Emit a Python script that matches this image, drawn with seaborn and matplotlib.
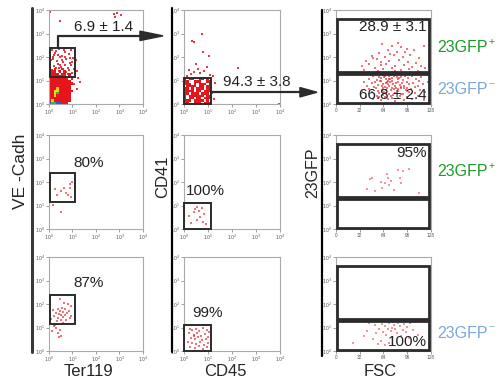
import numpy as np
import pandas as pd
from matplotlib import pyplot as plt
from matplotlib.colors import ListedColormap
from matplotlib.patches import Rectangle, Polygon
import seaborn as sns

sns.set_style('white')
plt.rcParams['font.family'] = ['Liberation Sans', 'DejaVu Sans']

W, H = 502, 385

# ---- data (log panels in decades, FSC panels: x linear 0-128, y in decades) ----
# dense core of the first plot, cells of 0.1 decade, top row first (y 1.4-1.5 ... 0-0.1)
A1_CELLS = [
    "r.r..r....",
    ".rr.r.r...",
    "rrrr.rr.r.",
    "rrrrrrr.r.",
    "rrrrrrrr.r",
    "rrrrrrrrr.",
    "rrrrrrrrrr",
    "rrrrrrrrr.",
    "rrryrrrrr.",
    "rryyrrrrrr",
    "rrygrrrrr.",
    "rryrrrrrr.",
    "rrrrrrrrr.",
    "ryrrrrrrr.",
    "bggbbrrr..",
]
A1_PTS = [(0.12, 2.30), (0.25, 2.18), (0.41, 2.35), (0.55, 2.05), (0.68, 2.22), (0.83, 2.12),
          (0.95, 2.28), (1.02, 1.95), (0.18, 1.92), (0.33, 1.85), (0.47, 1.98), (0.61, 1.80),
          (0.74, 1.90), (0.88, 1.76), (0.06, 1.70), (0.22, 1.62), (0.37, 1.72), (0.52, 1.58),
          (0.66, 1.66), (0.79, 1.55), (0.93, 1.64), (1.05, 1.50), (0.14, 1.45), (0.29, 1.52),
          (0.44, 1.40), (0.58, 1.47), (0.71, 1.36), (0.86, 1.43), (0.98, 1.32), (0.10, 1.28),
          (0.35, 1.25), (0.63, 1.22), (0.90, 1.20), (0.50, 2.40), (0.78, 2.38), (0.20, 2.10),
          (0.57, 1.88), (0.42, 1.55), (0.16, 2.02), (0.70, 2.00), (1.12, 1.72), (1.20, 1.40),
          (1.15, 1.86), (1.25, 1.10), (1.08, 0.85), (1.18, 0.62), (1.30, 0.95), (0.05, 3.90),
          (2.75, 3.82), (2.90, 3.88), (3.05, 3.80), (2.82, 3.70), (0.45, 3.55),
          (0.30, 2.25), (0.62, 2.30), (0.88, 1.95), (0.08, 1.88), (0.27, 1.38), (0.80, 1.28),
          (1.10, 1.35), (0.48, 1.68), (0.96, 1.80), (0.38, 2.08)]
A2_PTS = [(0.98, 2.00), (0.88, 1.92), (0.62, 1.74), (0.35, 1.45), (0.80, 1.45), (1.12, 1.66),
          (0.50, 1.60), (0.72, 1.55), (0.95, 1.38), (0.25, 1.70), (0.90, 1.75), (0.15, 1.02),
          (0.50, 0.72), (0.02, 0.45), (0.02, 0.85)]
A3_PTS = [(0.45, 2.20), (0.65, 2.05), (0.80, 1.98), (0.92, 1.90), (0.55, 1.85), (0.38, 1.80),
          (0.70, 1.78), (0.15, 1.75), (0.48, 1.70), (0.60, 1.68), (0.75, 1.62), (0.85, 1.72),
          (0.30, 1.62), (0.42, 1.58), (0.52, 1.55), (0.66, 1.52), (0.95, 1.50), (0.22, 1.48),
          (0.58, 1.45), (0.40, 1.40), (0.88, 1.40), (0.10, 1.35), (0.72, 1.32), (0.50, 1.30),
          (0.33, 1.28), (0.05, 1.15), (0.20, 1.05), (0.30, 0.98), (0.45, 0.90), (0.12, 0.85),
          (0.38, 0.78), (0.50, 0.65), (0.42, 0.58), (0.25, 1.10), (0.60, 1.20)]

# CD41 / CD45 gate core, cells of 0.1 decade, top row first
B1_CELLS = [
    "r.rr..rr.r.",
    "rr..rrr..rr",
    "rrr.r.rrr.r",
    ".rrrr.rr.rr",
    "rr.r.rrr.rr",
    "rrrr.rr.rrr",
    "rr.rrr.rrr.",
    "r.rrrrrr.rr",
    "r.rr.rr.rrr",
    "rrr.rrrr.r.",
    "rr..rrr.rrr",
]
B1_PTS = [(0.75, 2.98), (0.33, 2.70), (0.42, 2.62), (0.80, 2.22), (1.05, 2.05), (0.52, 1.72),
          (0.95, 1.58), (2.25, 1.55), (0.20, 1.45), (0.40, 1.38), (0.65, 1.30), (0.85, 1.42),
          (1.10, 1.25), (1.22, 1.18), (0.12, 1.20), (0.30, 1.28), (0.58, 1.50), (1.30, 0.90),
          (1.18, 0.45), (1.25, 0.20), (3.95, 0.02)]
B2_PTS = [(0.53, 0.94), (0.74, 0.91), (0.40, 0.72), (0.80, 0.30), (0.30, 0.24), (0.68, 0.50),
          (0.45, 0.85), (0.85, 0.62), (0.62, 0.78), (0.20, 0.55), (0.90, 0.20), (0.55, 0.40)]
B3_PTS = [(0.25, 0.95), (0.35, 0.88), (0.48, 0.92), (0.62, 0.85), (0.80, 0.98), (0.95, 0.90),
          (1.05, 0.80), (0.20, 0.75), (0.40, 0.70), (0.55, 0.78), (0.70, 0.65), (0.88, 0.72),
          (1.00, 0.60), (0.30, 0.55), (0.45, 0.50), (0.60, 0.58), (0.75, 0.45), (0.92, 0.52),
          (0.15, 0.40), (0.35, 0.35), (0.52, 0.30), (0.68, 0.38), (0.85, 0.25), (1.02, 0.35),
          (0.25, 0.18), (0.45, 0.12), (0.62, 0.20), (0.78, 0.10), (0.95, 0.15), (0.40, 0.62)]

# FSC vs 23GFP
C1_PTS = [(62, 2.55), (75, 2.48), (88, 2.42), (70, 2.30), (95, 2.35), (105, 2.28), (82, 2.20),
          (58, 2.15), (118, 2.45), (48, 2.05), (66, 2.00), (78, 2.08), (90, 1.98), (100, 2.10),
          (112, 1.95), (40, 1.85), (55, 1.90), (72, 1.82), (85, 1.88), (97, 1.80), (108, 1.75),
          (45, 1.70), (60, 1.65), (68, 1.72), (80, 1.60), (92, 1.68), (103, 1.58), (115, 1.62),
          (52, 1.55), (64, 1.48), (76, 1.52), (87, 1.45), (99, 1.50), (110, 1.42), (38, 1.45),
          (57, 1.42), (84, 2.60), (73, 2.12), (93, 2.22), (61, 1.78), (50, 1.95), (79, 1.40),
          (120, 1.55), (35, 1.60),
          (50, 1.20), (58, 1.15), (63, 1.22), (67, 1.08), (72, 1.18), (76, 1.12), (80, 1.24),
          (84, 1.05), (88, 1.16), (93, 1.20), (97, 1.10), (102, 1.18), (108, 1.06), (115, 1.14),
          (122, 1.22), (45, 1.05), (55, 1.02), (70, 1.00), (90, 1.02), (60, 1.10), (74, 1.25),
          (86, 1.22), (66, 1.18), (82, 1.15), (112, 1.00),
          (38, 0.95), (48, 0.88), (53, 0.92), (57, 0.80), (61, 0.96), (64, 0.85), (68, 0.90),
          (71, 0.78), (73, 0.94), (77, 0.86), (79, 0.75), (83, 0.92), (86, 0.82), (89, 0.88),
          (92, 0.76), (95, 0.95), (99, 0.84), (104, 0.90), (110, 0.78), (117, 0.86), (124, 0.92),
          (42, 0.75), (51, 0.72), (66, 0.72), (75, 0.98), (81, 0.70), (96, 0.70), (106, 0.72),
          (59, 0.98), (70, 0.84),
          (35, 0.55), (44, 0.62), (49, 0.50), (54, 0.66), (58, 0.45), (62, 0.60), (65, 0.52),
          (69, 0.68), (72, 0.42), (74, 0.58), (78, 0.64), (80, 0.48), (84, 0.55), (87, 0.66),
          (90, 0.44), (94, 0.60), (98, 0.52), (101, 0.65), (107, 0.48), (113, 0.58), (120, 0.50),
          (56, 0.56), (68, 0.48), (77, 0.40), (88, 0.42), (63, 0.68), (92, 0.68),
          (40, 0.30), (50, 0.22), (55, 0.35), (60, 0.15), (66, 0.28), (70, 0.20), (74, 0.33),
          (79, 0.12), (83, 0.25), (86, 0.36), (91, 0.18), (96, 0.30), (103, 0.22), (110, 0.35),
          (118, 0.15), (64, 0.38), (76, 0.25), (58, 0.30),
          (65, 1.13), (71, 1.05), (78, 1.20), (85, 1.10), (69, 0.95), (81, 0.88), (62, 0.78),
          (75, 0.70), (87, 0.74), (73, 1.08), (67, 0.60), (83, 0.62)]
C2_PTS = [(42, 1.70), (48, 2.17), (46, 2.12), (52, 1.62), (62, 1.74), (66, 1.95), (69, 2.34),
          (70, 2.18), (72, 1.88), (74, 2.05), (78, 1.68), (84, 2.50), (86, 2.15), (88, 1.95),
          (90, 2.48), (98, 2.55), (112, 1.53), (60, 2.02)]
C3_PTS = [(23, 0.35), (45, 1.20), (52, 1.10), (58, 0.95), (62, 1.15), (64, 0.80), (66, 1.05),
          (68, 0.70), (70, 0.92), (72, 1.18), (74, 0.85), (75, 1.00), (76, 0.60), (78, 1.12),
          (80, 0.95), (82, 0.78), (84, 1.20), (86, 1.05), (88, 0.65), (90, 0.90), (92, 1.15),
          (94, 0.80), (96, 1.02), (98, 0.55), (100, 1.18), (104, 0.88), (108, 1.22), (110, 0.70),
          (50, 0.50), (56, 0.30), (60, 0.42), (66, 0.25), (72, 0.35), (42, 0.85), (38, 0.65),
          (54, 0.78)]

GATE_VE = (0.05, 1.15, 1.1, 2.4)     # x0, y0, x1, y1
GATE_CD = (0.0, 0.0, 1.12, 1.1)
GATE_POS = (1, 1.36, 125, 3.6)
GATE_NEG = (1, 0.03, 125, 1.27)

LOG_TICKS = [0, 1, 2, 3, 4]
LOG_LABELS = ['$10^%d$' % k for k in LOG_TICKS]
FSC_TICKS = [0, 32, 64, 96, 128]

COL_X = [(49, 143), (184, 280), (336, 431)]
ROW_Y = [(10, 104), (135, 229), (257, 351)]

RED = '#e8141c'
DARK = '#2b2b2b'
GREEN = '#1f9a2a'
BLUE = '#7ca7d8'

fig = plt.figure(figsize=(W / 100, H / 100), dpi=100)


def px_axes(col, row):
    x0, x1 = COL_X[col]
    y0, y1 = ROW_Y[row]
    return fig.add_axes([x0 / W, 1 - y1 / H, (x1 - x0) / W, (y1 - y0) / H])


def style(ax, fsc=False):
    ax.set_ylim(0, 4)
    ax.set_yticks(LOG_TICKS)
    ax.set_yticklabels(LOG_LABELS)
    if fsc:
        ax.set_xlim(0, 128)
        ax.set_xticks(FSC_TICKS)
    else:
        ax.set_xlim(0, 4)
        ax.set_xticks(LOG_TICKS)
        ax.set_xticklabels(LOG_LABELS)
    ax.tick_params(length=2, width=0.5, color='#777', labelsize=3.4, labelcolor='#555', pad=1,
                   left=True, bottom=True)
    for s in ax.spines.values():
        s.set_color('#aaaaaa')
        s.set_linewidth(0.8)
    ax.set_xlabel('')
    ax.set_ylabel('')


def cells(ax, rows, step=0.1):
    codes = {'.': 0, 'r': 1, 'y': 2, 'g': 3, 'b': 4}
    grid = np.array([[codes[c] for c in r] for r in rows[::-1]], dtype=float)
    grid = np.ma.masked_equal(grid, 0)
    cmap = ListedColormap([RED, '#f2d21b', '#46b03c', '#3a55c8'])
    ny, nx = grid.shape
    ax.imshow(grid, cmap=cmap, vmin=0.5, vmax=4.5, origin='lower', aspect='auto',
              extent=(0, nx * step, 0, ny * step), interpolation='nearest', zorder=1)


def dots(ax, pts, alpha=0.85):
    df = pd.DataFrame(pts, columns=['x', 'y'])
    sns.scatterplot(data=df, x='x', y='y', ax=ax, color=RED, marker='s', s=1.3,
                    linewidth=0, alpha=alpha, zorder=2)


def gate(ax, g, lw=1.4):
    x0, y0, x1, y1 = g
    ax.add_patch(Rectangle((x0, y0), x1 - x0, y1 - y0, fill=False, edgecolor=DARK,
                           linewidth=lw, zorder=3, clip_on=False))


TXT = dict(fontsize=11, color='#222', zorder=4)

# column 1: VE-Cadh vs Ter119
ax = px_axes(0, 0)
cells(ax, A1_CELLS)
dots(ax, A1_PTS)
gate(ax, GATE_VE)
ax.plot([0.4, 0.4, 4.3], [2.4, 2.9, 2.9], color=DARK, lw=1.6, clip_on=False, zorder=4)
ax.add_patch(Polygon([(3.87, 3.1), (4.85, 2.9), (3.87, 2.7)], closed=True, color=DARK,
                     clip_on=False, zorder=4))
ax.text(2.34, 3.28, '6.9 ± 1.4', ha='center', va='center', **TXT)
style(ax)

ax = px_axes(0, 1)
dots(ax, A2_PTS, 0.6)
gate(ax, GATE_VE)
ax.text(1.68, 2.81, '80%', ha='center', va='center', **TXT)
style(ax)

ax = px_axes(0, 2)
dots(ax, A3_PTS, 0.6)
gate(ax, GATE_VE)
ax.text(1.68, 2.89, '87%', ha='center', va='center', **TXT)
style(ax)

# column 2: CD41 vs CD45
ax = px_axes(1, 0)
cells(ax, B1_CELLS)
dots(ax, B1_PTS)
gate(ax, GATE_CD)
ax.plot([1.12, 5.0], [0.5, 0.5], color=DARK, lw=1.6, clip_on=False, zorder=4)
ax.add_patch(Polygon([(4.83, 0.7), (5.54, 0.5), (4.83, 0.3)], closed=True, color=DARK,
                     clip_on=False, zorder=4))
ax.text(3.04, 0.94, '94.3 ± 3.8', ha='center', va='center', **TXT)
style(ax)

ax = px_axes(1, 1)
dots(ax, B2_PTS, 0.6)
gate(ax, GATE_CD)
ax.text(0.9, 1.62, '100%', ha='center', va='center', **TXT)
style(ax)

ax = px_axes(1, 2)
dots(ax, B3_PTS, 0.6)
gate(ax, GATE_CD)
ax.text(0.96, 1.62, '99%', ha='center', va='center', **TXT)
style(ax)

# column 3: 23GFP vs FSC
ax = px_axes(2, 0)
dots(ax, C1_PTS, 0.6)
gate(ax, GATE_POS, 2)
gate(ax, GATE_NEG, 2)
ax.text(122.6, 3.28, '28.9 ± 3.1', ha='right', va='center', **TXT)
ax.text(122.6, 0.38, '66.8 ± 2.4', ha='right', va='center', **TXT)
style(ax, fsc=True)

ax = px_axes(2, 1)
dots(ax, C2_PTS, 0.45)
gate(ax, GATE_POS, 2)
gate(ax, GATE_NEG, 2)
ax.text(122.6, 3.23, '95%', ha='right', va='center', **TXT)
style(ax, fsc=True)

ax = px_axes(2, 2)
dots(ax, C3_PTS, 0.45)
gate(ax, GATE_POS, 2)
gate(ax, GATE_NEG, 2)
ax.text(122.6, 0.38, '100%', ha='right', va='center', **TXT)
style(ax, fsc=True)


# figure level decorations, pixel positions
def ftext(x, y, s, **kw):
    fig.text(x / W, 1 - y / H, s, **kw)


def vline(x, y0, y1, color, lw):
    fig.add_artist(plt.Line2D([x / W, x / W], [1 - y0 / H, 1 - y1 / H], color=color, lw=lw))


vline(32, 8, 352, '#3a3a3a', 2.2)
vline(172, 8, 352, 'black', 1.6)
vline(322, 10, 356, 'black', 1.6)

ftext(21, 171, 'VE -Cadh', rotation=90, ha='center', va='center', fontsize=12.5)
ftext(163, 177, 'CD41', rotation=90, ha='center', va='center', fontsize=12)
ftext(313, 173, '23GFP', rotation=90, ha='center', va='center', fontsize=11.5)
ftext(88, 372, 'Ter119', ha='center', va='center', fontsize=12)
ftext(225, 372, 'CD45', ha='center', va='center', fontsize=12)
ftext(380, 372, 'FSC', ha='center', va='center', fontsize=12)

for y, col, sign in [(48, GREEN, '+'), (90, BLUE, '−'), (172, GREEN, '+'), (333, BLUE, '−')]:
    ftext(437, y, '23GFP', ha='left', va='center', fontsize=11.5, color=col)
    ftext(489, y - 6, sign, ha='left', va='center', fontsize=7.5, color=col)

fig.savefig('out.png', dpi=100)
